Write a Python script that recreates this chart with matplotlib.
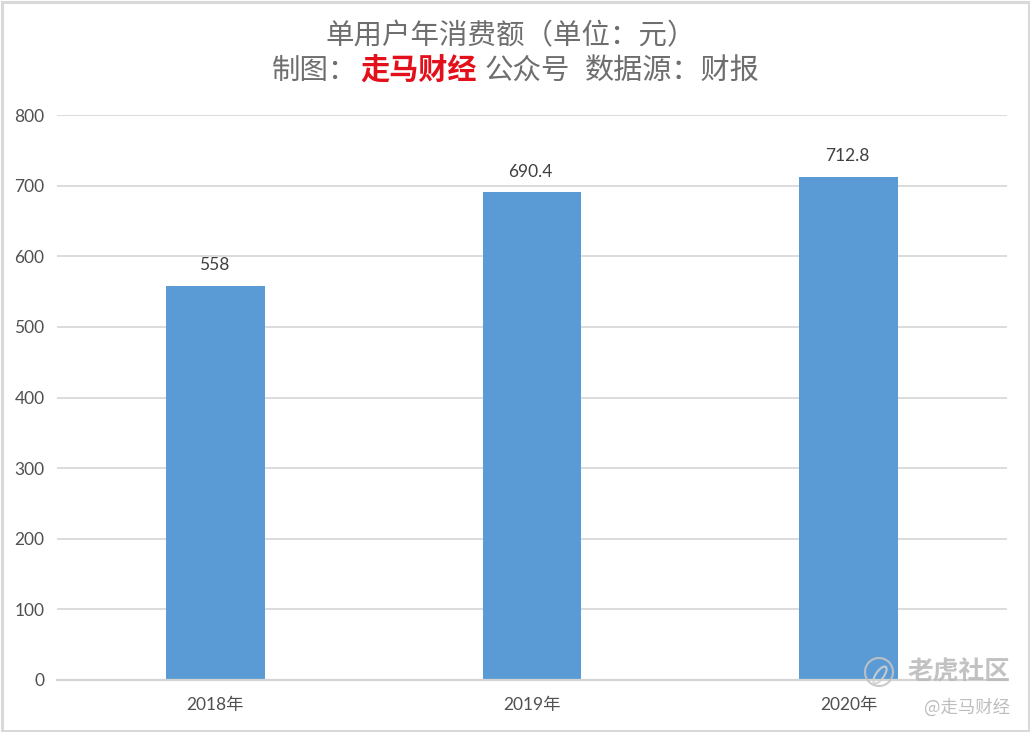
import matplotlib
matplotlib.use("Agg")
import matplotlib.pyplot as plt
from matplotlib.patches import Rectangle, Circle, Ellipse

categories = ["2018年", "2019年", "2020年"]
values = [558, 690.4, 712.8]
value_labels = ["558", "690.4", "712.8"]
y_ticks = [0, 100, 200, 300, 400, 500, 600, 700, 800]

W, H = 1030, 732
CJK = ["Noto Sans CJK SC", "DejaVu Sans"]
LATIN = ["Lato", "Noto Sans CJK SC", "DejaVu Sans"]
plt.rcParams["font.family"] = LATIN

fig = plt.figure(figsize=(W / 100, H / 100), dpi=100, facecolor="white")
ax = fig.add_axes([57 / W, 1 - 680 / H, 950 / W, 565 / H])
ax.set_xlim(-0.5, 2.5)
ax.set_ylim(0, 800)
ax.set_yticks(y_ticks)
ax.set_xticks(range(3))
ax.set_xticklabels(categories)
ax.grid(axis="y", color="#dcdcdc", lw=1.4, zorder=1)
ax.set_axisbelow(True)
for side in ("top", "right", "left"):
    ax.spines[side].set_visible(False)
ax.spines["bottom"].set_color("#d4d4d4")
ax.spines["bottom"].set_linewidth(1.6)
ax.tick_params(axis="both", length=0, labelcolor="#505050", labelsize=12.5)
ax.tick_params(axis="x", pad=12)
ax.tick_params(axis="y", pad=9)

bars = ax.bar(range(3), values, width=0.3126, color="#5b9bd5", zorder=2)
for rect, label in zip(bars, value_labels):
    ax.annotate(label, (rect.get_x() + rect.get_width() / 2 - 0.004, rect.get_height()),
                xytext=(0, 9), textcoords="offset points", ha="center", va="bottom",
                fontsize=12.5, color="#404040")


def px(x, y, s, **kw):
    fig.text(x / W, 1 - y / H, s, family=CJK, va="center", **kw)


GREY = "#6e6e6e"
px(511, 36, "单用户年消费额（单位：元）", ha="center", fontsize=20.5, color=GREY)
px(272, 71, "制图：", ha="left", fontsize=20.5, color=GREY)
px(360, 71, "走马财经", ha="left", fontsize=21, color="#e3101c", fontweight="bold")
px(485, 71, "公众号", ha="left", fontsize=20.5, color=GREY)
px(585, 71, "数据源：财报", ha="left", fontsize=21, color=GREY)

# watermark
px(959, 672, "老虎社区", ha="center", fontsize=18.5, color="#b8b8b8", alpha=0.85,
   fontweight="bold", zorder=5)
px(967, 708, "@走马财经", ha="center", fontsize=12.5, color="#bdbdbd", zorder=5)
fig.add_artist(Circle((879, H - 672), 14, transform=None, fill=False,
                      ec="#c4c4c4", lw=1.5, alpha=0.9, zorder=5))
fig.add_artist(Ellipse((880, H - 675), 8, 20, angle=-35, transform=None, fill=False,
                       ec="#d0d0d0", lw=1.5, alpha=0.9, zorder=5))

# picture border
fig.add_artist(Rectangle((1.5, 1.5), W - 3, H - 3, transform=None, fill=False,
                         ec="#d9d9d9", lw=2.2, zorder=6))

fig.savefig("out.png", dpi=100, facecolor="white")
